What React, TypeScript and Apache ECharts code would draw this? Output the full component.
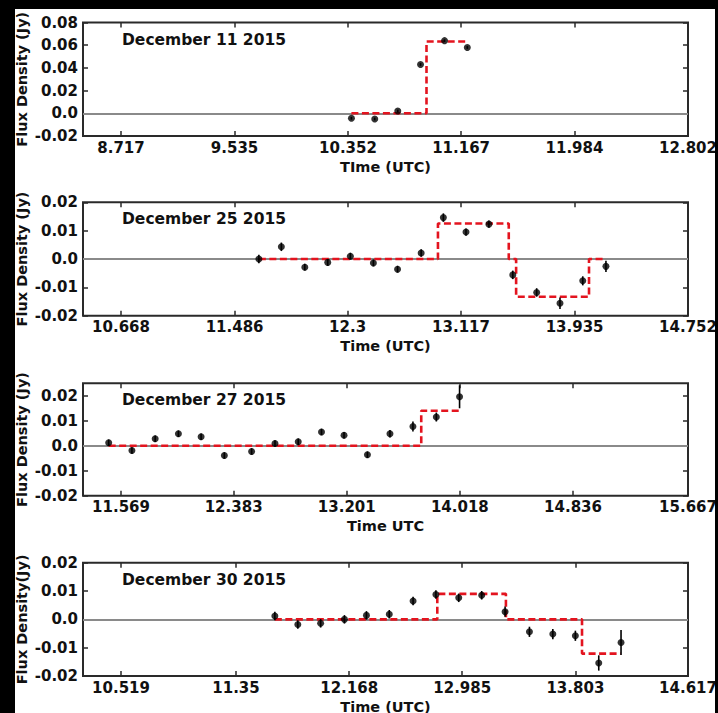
import React, { useEffect, useRef } from "react";
import * as echarts from "echarts";

// ---------- Data ----------
// December 11 2015
const dec11Time = [10.377, 10.545, 10.711, 10.875, 11.048, 11.212];
const dec11Flux = [-0.0044, -0.005, 0.002, 0.043, 0.064, 0.058];
const dec11Err = [0.0012, 0.0012, 0.0012, 0.0012, 0.0012, 0.0012];
const dec11ModelTime = [10.377, 10.918, 10.918, 11.212];
const dec11ModelFlux = [0, 0, 0.0632, 0.0632];
const dec11XTicks = [8.717, 9.535, 10.352, 11.167, 11.984, 12.802];
const dec11YTicks = [-0.02, 0, 0.02, 0.04, 0.06, 0.08];

// December 25 2015
const dec25Time = [11.661, 11.823, 11.992, 12.157, 12.32, 12.486, 12.66, 12.83, 12.99, 13.153, 13.318, 13.49, 13.662, 13.83, 13.994, 14.161];
const dec25Flux = [0.0, 0.0043, -0.0029, -0.0012, 0.001, -0.0014, -0.0036, 0.0021, 0.0146, 0.0095, 0.0123, -0.0056, -0.0118, -0.0156, -0.0077, -0.0026];
const dec25Err = [0.0015, 0.0015, 0.0012, 0.0012, 0.0012, 0.0012, 0.0012, 0.0013, 0.0015, 0.0013, 0.0013, 0.0015, 0.0015, 0.002, 0.0016, 0.002];
const dec25ModelTime = [11.661, 12.951, 12.951, 13.461, 13.461, 13.514, 13.514, 14.039, 14.039, 14.161];
const dec25ModelFlux = [0, 0, 0.0125, 0.0125, 0, 0, -0.0133, -0.0133, 0, 0];
const dec25XTicks = [10.668, 11.486, 12.3, 13.117, 13.935, 14.752];
const dec25YTicks = [-0.02, -0.01, 0, 0.01, 0.02];

// December 27 2015
const dec27Time = [11.48, 11.648, 11.816, 11.984, 12.148, 12.316, 12.513, 12.682, 12.85, 13.018, 13.181, 13.35, 13.513, 13.679, 13.848, 14.016];
const dec27Flux = [0.0012, -0.0019, 0.0028, 0.0048, 0.0036, -0.0039, -0.0023, 0.0009, 0.0016, 0.0055, 0.0042, -0.0036, 0.0048, 0.0077, 0.0115, 0.0196];
const dec27Err = [0.0013, 0.0013, 0.0013, 0.0013, 0.0013, 0.0013, 0.0013, 0.0013, 0.0013, 0.0013, 0.0013, 0.0013, 0.0015, 0.002, 0.0018, 0.0046];
const dec27ModelTime = [11.48, 13.739, 13.739, 14.016];
const dec27ModelFlux = [0, 0, 0.014, 0.014];
const dec27XTicks = [11.569, 12.383, 13.201, 14.018, 14.836, 15.667];
const dec27YTicks = [-0.02, -0.01, 0, 0.01, 0.02];

// December 30 2015
const dec30Time = [11.631, 11.797, 11.962, 12.134, 12.293, 12.458, 12.63, 12.795, 12.96, 13.126, 13.295, 13.471, 13.64, 13.803, 13.972, 14.133];
const dec30Flux = [0.0012, -0.0018, -0.0014, 0.0, 0.0014, 0.0018, 0.0065, 0.0088, 0.0076, 0.0085, 0.0027, -0.0044, -0.0052, -0.0058, -0.0154, -0.0082];
const dec30Err = [0.0015, 0.0015, 0.0015, 0.0015, 0.0015, 0.0015, 0.0015, 0.0015, 0.0015, 0.0015, 0.0018, 0.0018, 0.0018, 0.0018, 0.0027, 0.0044];
const dec30ModelTime = [11.631, 12.805, 12.805, 13.301, 13.301, 13.851, 13.851, 14.13];
const dec30ModelFlux = [0, 0, 0.009, 0.009, 0, 0, -0.0121, -0.0121];
const dec30XTicks = [10.519, 11.35, 12.168, 12.985, 13.803, 14.617];
const dec30YTicks = [-0.02, -0.01, 0, 0.01, 0.02];

const panelTitles = ["December 11 2015", "December 25 2015", "December 27 2015", "December 30 2015"];
const xAxisTitles = ["TIme (UTC)", "Time (UTC)", "Time UTC", "Time (UTC)"];
const yAxisTitles = ["Flux Density (Jy)", "Flux Density (Jy)", "Flux Density (Jy)", "Flux Density(Jy)"];

// ---------- Layout ----------
const FONT = "DejaVu Sans";
const GRID_LEFT = 83;
const GRID_WIDTH = 605;
const YTITLE_X = 21.5;
const layout = [
  { top: 22.5, height: 113.5, xMin: 8.4432, xMax: 12.802, yMin: -0.02, yMax: 0.08 },
  { top: 202.3, height: 113.4, xMin: 10.3943, xMax: 14.752, yMin: -0.02, yMax: 0.02 },
  { top: 383.3, height: 112.4, xMin: 11.2944, xMax: 15.667, yMin: -0.02, yMax: 0.025 },
  { top: 562.7, height: 113.3, xMin: 10.2444, xMax: 14.617, yMin: -0.02, yMax: 0.02 },
];

const panels = [
  { time: dec11Time, flux: dec11Flux, err: dec11Err, mt: dec11ModelTime, mf: dec11ModelFlux, xt: dec11XTicks, yt: dec11YTicks },
  { time: dec25Time, flux: dec25Flux, err: dec25Err, mt: dec25ModelTime, mf: dec25ModelFlux, xt: dec25XTicks, yt: dec25YTicks },
  { time: dec27Time, flux: dec27Flux, err: dec27Err, mt: dec27ModelTime, mf: dec27ModelFlux, xt: dec27XTicks, yt: dec27YTicks },
  { time: dec30Time, flux: dec30Flux, err: dec30Err, mt: dec30ModelTime, mf: dec30ModelFlux, xt: dec30XTicks, yt: dec30YTicks },
];

const FRAME = "#2a2a2a";
const TEXT = "#111";
const tickFont = { fontFamily: FONT, fontWeight: "bold" as const, fontSize: 15, color: TEXT };
const titleFont = { fontFamily: FONT, fontWeight: "bold" as const, fontSize: 14.5, color: TEXT };

function buildOption() {
  const grid: any[] = [];
  const xAxis: any[] = [];
  const yAxis: any[] = [];
  const series: any[] = [];
  const graphic: any[] = [];

  panels.forEach((p, i) => {
    const L = layout[i];
    grid.push({
      left: GRID_LEFT,
      width: GRID_WIDTH,
      top: L.top,
      height: L.height,
      show: true,
      borderColor: FRAME,
      borderWidth: 2,
      backgroundColor: "#fff",
      containLabel: false,
      outerBoundsMode: "none",
    });
    const tickStyle = { inside: true, length: 5, lineStyle: { color: FRAME, width: 1.5 } };
    const hiddenLine = { show: false, onZero: false };
    xAxis.push({
      type: "value",
      gridIndex: i,
      position: "bottom",
      min: L.xMin,
      max: L.xMax,
      axisLine: hiddenLine,
      splitLine: { show: false },
      axisTick: { ...tickStyle, customValues: p.xt },
      axisLabel: { ...tickFont, margin: 4, customValues: p.xt, formatter: (v: number) => String(v) },
      name: xAxisTitles[i],
      nameLocation: "middle",
      nameGap: 23,
      nameTextStyle: { ...titleFont },
    });
    xAxis.push({
      type: "value",
      gridIndex: i,
      position: "top",
      min: L.xMin,
      max: L.xMax,
      axisLine: hiddenLine,
      splitLine: { show: false },
      axisTick: { ...tickStyle, customValues: p.xt },
      axisLabel: { show: false, customValues: p.xt },
    });
    yAxis.push({
      type: "value",
      gridIndex: i,
      position: "left",
      min: L.yMin,
      max: L.yMax,
      axisLine: hiddenLine,
      splitLine: { show: false },
      axisTick: { ...tickStyle, customValues: p.yt },
      axisLabel: {
        ...tickFont,
        margin: 5,
        customValues: p.yt,
        formatter: (v: number) => (Math.abs(v) < 1e-9 ? "0.0" : v.toFixed(2)),
      },
    });
    yAxis.push({
      type: "value",
      gridIndex: i,
      position: "right",
      min: L.yMin,
      max: L.yMax,
      axisLine: hiddenLine,
      splitLine: { show: false },
      axisTick: { ...tickStyle, customValues: p.yt },
      axisLabel: { show: false, customValues: p.yt },
    });

    const xi = i * 2;
    const yi = i * 2;

    series.push({
      type: "line",
      xAxisIndex: xi,
      yAxisIndex: yi,
      data: p.mt.map((t, k) => [t, p.mf[k]]),
      symbol: "none",
      z: 2,
      lineStyle: { color: "#e3141f", width: 2.6, type: [7, 3.5] },
      silent: true,
      markLine: {
        silent: true,
        symbol: "none",
        z: 1,
        label: { show: false },
        lineStyle: { color: "#8a8a8a", width: 2, type: "solid" },
        emphasis: { disabled: true },
        data: [{ yAxis: 0 }],
      },
    });
    series.push({
      type: "custom",
      xAxisIndex: xi,
      yAxisIndex: yi,
      z: 3,
      silent: true,
      data: p.time.map((t, k) => [t, p.flux[k] - p.err[k], p.flux[k] + p.err[k]]),
      encode: { x: 0, y: [1, 2] },
      renderItem: (params: any, api: any) => {
        const x = api.value(0);
        const a = api.coord([x, api.value(1)]);
        const b = api.coord([x, api.value(2)]);
        return {
          type: "line",
          shape: { x1: a[0], y1: a[1], x2: b[0], y2: b[1] },
          style: { stroke: "#000", lineWidth: 1.6 },
        };
      },
    });
    series.push({
      type: "scatter",
      xAxisIndex: xi,
      yAxisIndex: yi,
      z: 4,
      silent: true,
      symbol: "circle",
      symbolSize: 7,
      itemStyle: { color: "#000" },
      data: p.time.map((t, k) => [t, p.flux[k]]),
    });

    // panel annotation
    graphic.push({
      type: "text",
      left: 122,
      top: L.top + 17.5 - 8.5,
      z: 50,
      style: {
        text: panelTitles[i],
        fill: TEXT,
        font: `bold 15.5px "${FONT}"`,
      },
    });
    // y-axis title (rotated)
    graphic.push({
      type: "text",
      x: YTITLE_X,
      y: L.top + L.height / 2,
      rotation: Math.PI / 2,
      z: 50,
      style: {
        text: yAxisTitles[i],
        fill: TEXT,
        font: `bold 14.5px "${FONT}"`,
        align: "center",
        verticalAlign: "middle",
        textAlign: "center",
        textVerticalAlign: "middle",
      },
    });
  });

  graphic.push(
    { type: "rect", z: 100, shape: { x: 0, y: 0, width: 718, height: 9 }, style: { fill: "#000" } },
    { type: "rect", z: 100, shape: { x: 0, y: 0, width: 15, height: 713 }, style: { fill: "#000" } },
    { type: "rect", z: 100, shape: { x: 715, y: 0, width: 3, height: 713 }, style: { fill: "#000" } }
  );

  return {
    animation: false,
    backgroundColor: "#fff",
    grid,
    xAxis,
    yAxis,
    series,
    graphic,
    tooltip: { show: false },
  };
}

export default function App() {
  const ref = useRef<HTMLDivElement>(null);
  useEffect(() => {
    if (!ref.current) return;
    document.documentElement.style.margin = "0";
    document.documentElement.style.padding = "0";
    document.body.style.margin = "0";
    document.body.style.padding = "0";
    document.body.style.overflow = "hidden";
    const chart = echarts.init(ref.current, null, { renderer: "svg" });
    chart.setOption(buildOption() as any);
    return () => chart.dispose();
  }, []);
  return (
    <div
      ref={ref}
      style={{ position: "relative", width: 718, height: 713, background: "#fff", margin: 0 }}
    />
  );
}
